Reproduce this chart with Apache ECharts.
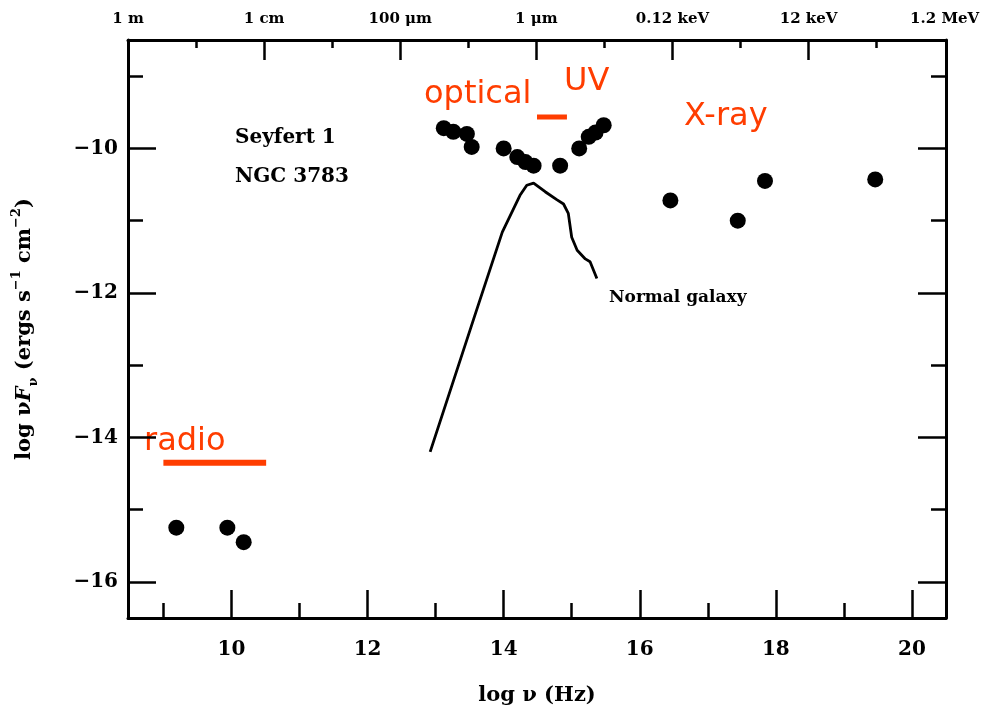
<!DOCTYPE html>
<html>
<head>
<meta charset="utf-8">
<script src="https://cdn.jsdelivr.net/npm/echarts@6/dist/echarts.min.js"></script>
<style>html,body{margin:0;padding:0;background:#fff}#c{width:984px;height:714px}</style>
</head>
<body>
<div id="c"></div>
<script>
// ---- data ----
const xMajorTicks = [10, 12, 14, 16, 18, 20];
const xMinorTicks = [9, 11, 13, 15, 17, 19];
const yMajorTicks = [-16, -14, -12, -10];
const yMinorTicks = [-15, -13, -11, -9];
const topTickPos = [8.48, 10.48, 12.48, 14.48, 16.48, 18.48, 20.48];
const topTickLabels = ['1 m', '1 cm', '100 μm', '1 μm', '0.12 keV', '12 keV', '1.2 MeV'];
const topMinorPos = [9.48, 11.48, 13.48, 15.48, 17.48, 19.48];

const radioLogNu = [9.19, 9.94, 10.18];
const radioLogF = [-15.25, -15.25, -15.45];
const optUvLogNu = [13.12, 13.26, 13.46, 13.53, 14.00, 14.20, 14.32, 14.44, 14.83, 15.11, 15.25, 15.35, 15.47];
const optUvLogF = [-9.72, -9.77, -9.80, -9.98, -10.00, -10.12, -10.19, -10.24, -10.24, -10.00, -9.84, -9.78, -9.68];
const xrayLogNu = [16.45, 17.44, 17.84, 19.46];
const xrayLogF = [-10.72, -11.00, -10.45, -10.43];

const galaxyLogNu = [12.92, 13.56, 13.98, 14.24, 14.34, 14.44, 14.61, 14.78, 14.88, 14.95, 15.00, 15.08, 15.20, 15.27, 15.37];
const galaxyLogF = [-14.20, -12.36, -11.16, -10.65, -10.51, -10.48, -10.60, -10.71, -10.77, -10.90, -11.23, -11.41, -11.53, -11.57, -11.80];

const radioBand = [9.0, 10.51];
const radioBandLevel = -14.35;
const optUvBand = [14.49, 14.93];
const optUvBandLevel = -9.567;

// ---- chart ----
const zip = (a, b) => a.map((v, i) => [v, b[i]]);
const SERIF = '"DejaVu Serif"';
const RED = '#ff3d00';
const X_MIN = 8.48, X_MAX = 20.5, Y_MIN = -16.5, Y_MAX = -8.5;
const lbl = {fontFamily: SERIF, fontWeight: 'bold', color: '#000'};
const minus = v => String(v).replace('-', '−');

function xAx(opts) {
  return Object.assign({
    type: 'value', min: X_MIN, max: X_MAX, gridIndex: 0,
    splitLine: {show: false},
    axisLine: {show: false},
    axisLabel: {show: false}
  }, opts);
}
function yAx(opts) {
  return Object.assign({
    type: 'value', min: Y_MIN, max: Y_MAX, gridIndex: 0,
    splitLine: {show: false},
    axisLine: {show: false},
    axisLabel: {show: false}
  }, opts);
}

const chart = echarts.init(document.getElementById('c'), null, {renderer: 'canvas'});
chart.setOption({
  backgroundColor: '#fff',
  animation: false,
  grid: {left: 128, right: 38, top: 40, bottom: 96},
  xAxis: [
    xAx({
      position: 'bottom',
      axisLine: {show: true, onZero: false, lineStyle: {color: '#000', width: 3}},
      axisTick: {show: true, inside: true, length: 28, customValues: xMajorTicks, lineStyle: {color: '#000', width: 2.5}},
      axisLabel: Object.assign({show: true, fontSize: 20, margin: 22, customValues: xMajorTicks}, lbl),
      name: 'log ν (Hz)', nameLocation: 'middle', nameGap: 67,
      nameTextStyle: Object.assign({fontSize: 21}, lbl)
    }),
    xAx({
      position: 'bottom',
      axisTick: {show: true, inside: true, length: 15, customValues: xMinorTicks, lineStyle: {color: '#000', width: 2.5}}
    }),
    xAx({
      position: 'top',
      axisLine: {show: true, onZero: false, lineStyle: {color: '#000', width: 3}},
      axisTick: {show: true, inside: true, length: 20, customValues: topTickPos.slice(1, -1), lineStyle: {color: '#000', width: 2.5}},
      axisLabel: Object.assign({
        show: true, fontSize: 15, margin: 13, customValues: topTickPos,
        formatter: v => { const i = topTickPos.findIndex(p => Math.abs(p - v) < 1e-6); return i >= 0 ? topTickLabels[i] : ''; }
      }, lbl)
    }),
    xAx({
      position: 'top',
      axisTick: {show: true, inside: true, length: 8, customValues: topMinorPos, lineStyle: {color: '#000', width: 2.5}}
    })
  ],
  yAxis: [
    yAx({
      position: 'left',
      axisLine: {show: true, onZero: false, lineStyle: {color: '#000', width: 3}},
      axisTick: {show: true, inside: true, length: 28, customValues: yMajorTicks, lineStyle: {color: '#000', width: 2.5}},
      axisLabel: Object.assign({show: true, fontSize: 20, margin: 10, customValues: yMajorTicks, formatter: minus}, lbl),
      name: '{a|log ν}{i|F}{s|ν}{a| (ergs s}{p|−1}{a| cm}{p|−2}{a|)}',
      nameLocation: 'middle', nameGap: 88, nameRotate: 90,
      nameTextStyle: Object.assign({
        fontSize: 21,
        rich: {
          a: {fontFamily: SERIF, fontWeight: 'bold', fontSize: 21, lineHeight: 30, verticalAlign: 'middle', color: '#000'},
          i: {fontFamily: SERIF, fontWeight: 'bold', fontStyle: 'italic', fontSize: 21, lineHeight: 30, verticalAlign: 'middle', color: '#000'},
          s: {fontFamily: SERIF, fontWeight: 'bold', fontSize: 13, lineHeight: 30, verticalAlign: 'bottom', color: '#000'},
          p: {fontFamily: SERIF, fontWeight: 'bold', fontSize: 13, lineHeight: 30, verticalAlign: 'top', color: '#000'}
        }
      }, lbl)
    }),
    yAx({
      position: 'left',
      axisTick: {show: true, inside: true, length: 15, customValues: yMinorTicks, lineStyle: {color: '#000', width: 2.5}}
    }),
    yAx({
      position: 'right',
      axisLine: {show: true, onZero: false, lineStyle: {color: '#000', width: 3}},
      axisTick: {show: true, inside: true, length: 28, customValues: yMajorTicks, lineStyle: {color: '#000', width: 2.5}}
    }),
    yAx({
      position: 'right',
      axisTick: {show: true, inside: true, length: 15, customValues: yMinorTicks, lineStyle: {color: '#000', width: 2.5}}
    })
  ],
  series: [
    {
      name: 'Normal galaxy', type: 'line', xAxisIndex: 0, yAxisIndex: 0,
      data: zip(galaxyLogNu, galaxyLogF), showSymbol: false, smooth: false,
      lineStyle: {color: '#000', width: 2.8}
    },
    {
      name: 'radio band', type: 'line', xAxisIndex: 0, yAxisIndex: 0,
      data: radioBand.map(v => [v, radioBandLevel]), showSymbol: false,
      lineStyle: {color: RED, width: 6, cap: 'butt'}
    },
    {
      name: 'optical-UV band', type: 'line', xAxisIndex: 0, yAxisIndex: 0,
      data: optUvBand.map(v => [v, optUvBandLevel]), showSymbol: false,
      lineStyle: {color: RED, width: 5, cap: 'butt'}
    },
    {
      name: 'radio', type: 'scatter', xAxisIndex: 0, yAxisIndex: 0,
      data: zip(radioLogNu, radioLogF), symbolSize: 16, itemStyle: {color: '#000', opacity: 1}
    },
    {
      name: 'optical/UV', type: 'scatter', xAxisIndex: 0, yAxisIndex: 0,
      data: zip(optUvLogNu, optUvLogF), symbolSize: 16, itemStyle: {color: '#000', opacity: 1}
    },
    {
      name: 'X-ray', type: 'scatter', xAxisIndex: 0, yAxisIndex: 0,
      data: zip(xrayLogNu, xrayLogF), symbolSize: 16, itemStyle: {color: '#000', opacity: 1}
    }
  ],
  graphic: [
    {type: 'text', x: 235, y: 138, style: {text: 'Seyfert 1', font: 'bold 20px "DejaVu Serif"', fill: '#000', align: 'left', verticalAlign: 'middle'}},
    {type: 'text', x: 235, y: 177, style: {text: 'NGC 3783', font: 'bold 20px "DejaVu Serif"', fill: '#000', align: 'left', verticalAlign: 'middle'}},
    {type: 'text', x: 609, y: 298, style: {text: 'Normal galaxy', font: 'bold 17px "DejaVu Serif"', fill: '#000', align: 'left', verticalAlign: 'middle'}},
    {type: 'text', x: 144, y: 442, style: {text: 'radio', font: '32px "DejaVu Sans"', fill: RED, align: 'left', verticalAlign: 'middle'}},
    {type: 'text', x: 424, y: 95, style: {text: 'optical', font: '32px "DejaVu Sans"', fill: RED, align: 'left', verticalAlign: 'middle'}},
    {type: 'text', x: 564, y: 82, style: {text: 'UV', font: '32px "DejaVu Sans"', fill: RED, align: 'left', verticalAlign: 'middle'}},
    {type: 'text', x: 684, y: 117, style: {text: 'X-ray', font: '32px "DejaVu Sans"', fill: RED, align: 'left', verticalAlign: 'middle'}}
  ]
});
</script>
</body>
</html>
